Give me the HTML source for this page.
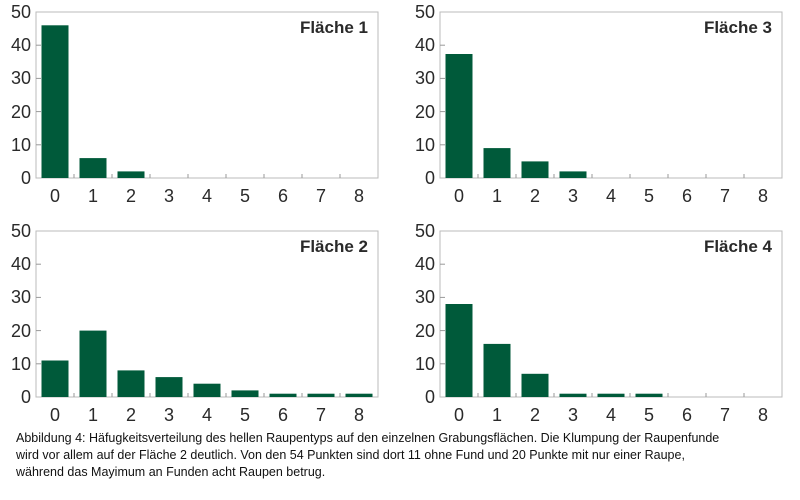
<!DOCTYPE html><html><head><meta charset="utf-8"><style>body{margin:0;background:#fff}svg{display:block}.t{font-family:"Liberation Sans",sans-serif;fill:#2a2a2a}</style></head><body>
<svg width="800" height="500" viewBox="0 0 800 500">
<defs>
<g id="ax">
<rect x="0" y="0" width="342" height="166" fill="none" stroke="#bbb" stroke-width="1"/>
<g stroke="#999"><line x1="0" y1="33.2" x2="5" y2="33.2"/><line x1="0" y1="66.4" x2="5" y2="66.4"/><line x1="0" y1="99.6" x2="5" y2="99.6"/><line x1="0" y1="132.8" x2="5" y2="132.8"/>
<line x1="38" y1="166" x2="38" y2="162"/><line x1="76" y1="166" x2="76" y2="162"/><line x1="114" y1="166" x2="114" y2="162"/><line x1="152" y1="166" x2="152" y2="162"/><line x1="190" y1="166" x2="190" y2="162"/><line x1="228" y1="166" x2="228" y2="162"/><line x1="266" y1="166" x2="266" y2="162"/><line x1="304" y1="166" x2="304" y2="162"/></g>
<g class="t" font-size="18" text-anchor="end"><text x="-5" y="172">0</text><text x="-5" y="139">10</text><text x="-5" y="106">20</text><text x="-5" y="72">30</text><text x="-5" y="39">40</text><text x="-5" y="6">50</text></g>
<g class="t" font-size="18" text-anchor="middle"><text x="19" y="190">0</text><text x="57" y="190">1</text><text x="95" y="190">2</text><text x="133" y="190">3</text><text x="171" y="190">4</text><text x="209" y="190">5</text><text x="247" y="190">6</text><text x="285" y="190">7</text><text x="323" y="190">8</text></g>
</g>
</defs>
<g transform="translate(36,12)"><use href="#ax"/><text class="t" x="332" y="21" font-size="17" font-weight="bold" text-anchor="end">Fläche 1</text>
<g fill="#005a3a"><rect x="5.5" y="13.3" width="27" height="152.7"/><rect x="43.5" y="146.1" width="27" height="19.9"/><rect x="81.5" y="159.4" width="27" height="6.6"/></g></g>
<g transform="translate(440,12)"><use href="#ax"/><text class="t" x="332" y="21" font-size="17" font-weight="bold" text-anchor="end">Fläche 3</text>
<g fill="#005a3a"><rect x="5.5" y="42" width="27" height="124"/><rect x="43.5" y="136.1" width="27" height="29.9"/><rect x="81.5" y="149.4" width="27" height="16.6"/><rect x="119.5" y="159.4" width="27" height="6.6"/></g></g>
<g transform="translate(36,231)"><use href="#ax"/><text class="t" x="332" y="21" font-size="17" font-weight="bold" text-anchor="end">Fläche 2</text>
<g fill="#005a3a"><rect x="5.5" y="129.5" width="27" height="36.5"/><rect x="43.5" y="99.6" width="27" height="66.4"/><rect x="81.5" y="139.4" width="27" height="26.6"/><rect x="119.5" y="146.1" width="27" height="19.9"/><rect x="157.5" y="152.7" width="27" height="13.3"/><rect x="195.5" y="159.4" width="27" height="6.6"/><rect x="233.5" y="162.7" width="27" height="3.3"/><rect x="271.5" y="162.7" width="27" height="3.3"/><rect x="309.5" y="162.7" width="27" height="3.3"/></g></g>
<g transform="translate(440,231)"><use href="#ax"/><text class="t" x="332" y="21" font-size="17" font-weight="bold" text-anchor="end">Fläche 4</text>
<g fill="#005a3a"><rect x="5.5" y="73" width="27" height="93"/><rect x="43.5" y="112.9" width="27" height="53.1"/><rect x="81.5" y="142.8" width="27" height="23.2"/><rect x="119.5" y="162.7" width="27" height="3.3"/><rect x="157.5" y="162.7" width="27" height="3.3"/><rect x="195.5" y="162.7" width="27" height="3.3"/></g></g>
<g font-family="Liberation Sans, sans-serif" font-size="12.5" fill="#111"><text x="16" y="442">Abbildung 4: Häfugkeitsverteilung des hellen Raupentyps auf den einzelnen Grabungsflächen. Die Klumpung der Raupenfunde</text>
<text x="16" y="459">wird vor allem auf der Fläche 2 deutlich. Von den 54 Punkten sind dort 11 ohne Fund und 20 Punkte mit nur einer Raupe,</text>
<text x="16" y="476">während das Mayimum an Funden acht Raupen betrug.</text></g>
</svg></body></html>
